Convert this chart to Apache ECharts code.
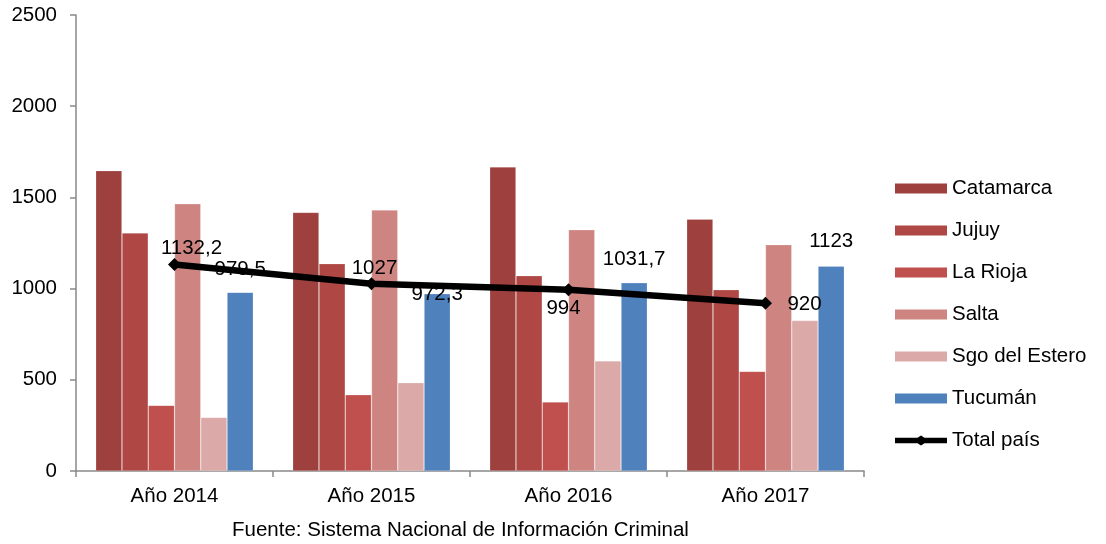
<!DOCTYPE html>
<html>
<head>
<meta charset="utf-8">
<script src="https://cdn.jsdelivr.net/npm/echarts@6/dist/echarts.min.js"></script>
<style>html,body{margin:0;padding:0;background:#fff}#c{width:1106px;height:544px}</style>
</head>
<body>
<div id="c"></div>
<script>
const categories = ['Año 2014', 'Año 2015', 'Año 2016', 'Año 2017'];
const catamarca = [1647, 1418, 1667, 1381];
const jujuy = [1305, 1137, 1071, 994];
const laRioja = [360, 418, 378, 546];
const salta = [1465, 1431, 1323, 1241];
const sgoDelEstero = [294, 484, 604, 825];
const tucuman = [979.5, 972.3, 1031.7, 1123];
const totalPais = [1132.2, 1027, 994, 920];
const yTicks = [0, 500, 1000, 1500, 2000, 2500];
const source = 'Fuente: Sistema Nacional de Información Criminal';

const FONT = 'Liberation Sans, Arial, sans-serif';
const FS = 20.5;
const fmt = v => String(v).replace('.', ',');

const barNames = ['Catamarca', 'Jujuy', 'La Rioja', 'Salta', 'Sgo del Estero', 'Tucumán'];
const barData = [catamarca, jujuy, laRioja, salta, sgoDelEstero, tucuman];
const barColors = ['#9E413E', '#AF4845', '#C0504D', '#CE8582', '#DAA9A8', '#4F81BD'];

const tucLabelOffsets = [[0, -7], [0, 16], [0, -8], [0, -9]];
const totLabelOffsets = [[17, -16], [3, -15], [-5, 19], [39, 1]];

const series = barNames.map((n, i) => ({
  name: n,
  type: 'bar',
  barGap: '0%',
  barCategoryGap: '20%',
  itemStyle: { color: barColors[i], borderColor: 'rgba(255,255,255,0.35)', borderWidth: 0.6 },
  data: barData[i].map((v, j) => {
    const d = { value: v };
    if (n === 'Tucumán') {
      d.label = { show: true, position: 'top', offset: tucLabelOffsets[j], formatter: p => fmt(p.value), fontFamily: FONT, fontSize: FS, color: '#000' };
    }
    return d;
  })
}));

series.push({
  name: 'Total país',
  type: 'line',
  symbol: 'diamond',
  symbolSize: 13,
  z: 5,
  lineStyle: { color: '#000', width: 6.5 },
  itemStyle: { color: '#000' },
  data: totalPais.map((v, j) => ({
    value: v,
    label: { show: true, position: 'inside', offset: totLabelOffsets[j], formatter: p => fmt(p.value), fontFamily: FONT, fontSize: FS, color: '#000' }
  }))
});

const lineIcon = 'path://M0,2.2 H22.5 L26,0 L29.5,2.2 H52 V7.8 H29.5 L26,10 L22.5,7.8 H0 Z';

const chart = echarts.init(document.getElementById('c'), null, { renderer: 'canvas' });
chart.setOption({
  animation: false,
  textStyle: { fontFamily: FONT },
  grid: { left: 76, right: 242, top: 15, bottom: 73, containLabel: false },
  legend: {
    orient: 'vertical',
    left: 895,
    top: 178,
    padding: 0,
    itemWidth: 52,
    itemHeight: 10,
    itemGap: 21,
    symbolKeepAspect: false,
    itemStyle: { borderWidth: 0 },
    textStyle: { fontFamily: FONT, fontSize: FS, color: '#000' },
    data: barNames.map(n => ({ name: n, icon: 'rect' })).concat([{ name: 'Total país', icon: lineIcon }])
  },
  xAxis: {
    type: 'category',
    data: categories,
    axisLine: { lineStyle: { color: '#898989', width: 1.5 } },
    axisTick: { show: true, alignWithLabel: false, length: 6, lineStyle: { color: '#898989', width: 1.5 } },
    axisLabel: { fontFamily: FONT, fontSize: FS, color: '#000', margin: 15 }
  },
  yAxis: {
    type: 'value',
    min: yTicks[0],
    max: yTicks[yTicks.length - 1],
    interval: 500,
    axisLine: { show: true, lineStyle: { color: '#898989', width: 1.5 } },
    axisTick: { show: true, length: 6, lineStyle: { color: '#898989', width: 1.5 } },
    splitLine: { show: false },
    axisLabel: { fontFamily: FONT, fontSize: FS, color: '#000', margin: 19, formatter: v => String(v) }
  },
  graphic: [{
    type: 'text',
    left: 232,
    top: 520,
    style: { text: source, fontFamily: FONT, fontSize: FS, fill: '#000' }
  }],
  series: series
});
</script>
</body>
</html>
